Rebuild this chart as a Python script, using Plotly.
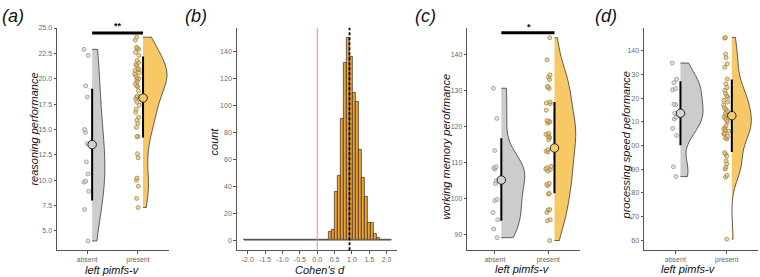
import numpy as np
import plotly.graph_objects as go

W, H = 760, 277

groups = ["absent", "present"]

# ---------------- panel (a): reasoning performance ----------------
reason_absent = [22.9, 22.3, 19.3, 18.2, 15.0, 14.7, 13.6, 11.8, 10.6, 9.9, 9.8, 8.9, 7.1, 4.0]
reason_present = [24.1, 23.8, 23.1, 23.0, 22.9, 22.6, 22.3, 21.8, 21.6, 21.4, 21.3, 21.0, 20.9,
                  20.8, 20.6, 20.5, 20.3, 20.1, 20.0, 19.9, 19.7, 19.5, 19.3, 19.2, 18.8, 18.3,
                  18.2, 18.0, 17.7, 17.4, 17.0, 16.7, 16.2, 15.9, 15.6, 15.2, 14.3, 14.3, 12.6,
                  12.2, 10.2, 10.0, 9.4, 8.2, 7.3]
reason_mean = [13.5, 18.1]
reason_err_lo = [8.0, 14.2]
reason_err_hi = [19.0, 22.2]
reason_sig_y = 24.5
reason_sig_text = "**"

# ---------------- panel (b): bootstrap Cohen's d ----------------
d_bin_start = -2.105
d_bin_width = 0.0865
d_counts = [0] * 28 + [6, 8, 36, 48, 90, 132, 150, 136, 109, 103, 67, 46, 32, 13, 13, 5, 2] + [0] * 4
d_mean = 0.93
d_null = 0.0
d_ticks = [-2.0, -1.5, -1.0, -0.5, 0.0, 0.5, 1.0, 1.5, 2.0]
d_ticktext = ["-2.0", "-1.5", "-1.0", "-0.5", "0.0", "0.5", "1.0", "1.5", "2.0"]
count_ticks = [0, 20, 40, 60, 80, 100, 120, 140]

# ---------------- panel (c): working memory ----------------
wm_absent = [130.7, 122.3, 113.4, 108.9, 108.6, 108.2, 105.0, 104.2, 99.8, 99.5, 96.2, 94.2, 91.6, 89.2]
wm_present = [144.7, 138.6, 134.4, 133.8, 133.1, 131.2, 131.0, 130.6, 126.9, 126.6, 126.4, 124.6,
              121.7, 121.5, 121.4, 121.0, 118.2, 117.9, 117.6, 117.3, 117.0, 116.4, 113.6, 113.2,
              113.0, 109.0, 108.6, 108.3, 108.1, 107.7, 104.3, 104.0, 103.6, 101.5, 101.3, 97.0,
              96.9, 96.2, 94.2, 93.9, 88.4]
wm_mean = [105.2, 114.1]
wm_err_lo = [93.9, 101.5]
wm_err_hi = [116.8, 126.9]
wm_sig_y = 146.1
wm_sig_text = "*"
wm_ticks = [90, 100, 110, 120, 130, 140]

# ---------------- panel (d): processing speed ----------------
ps_absent = [134.8, 128.0, 126.5, 124.0, 123.5, 117.4, 117.2, 113.6, 111.9, 111.2, 107.2, 104.2, 91.0, 86.9]
ps_present = [145.6, 145.3, 138.6, 137.1, 134.5, 133.0, 128.1, 126.0, 124.5, 123.3, 122.0, 121.0,
              120.4, 119.1, 118.3, 117.1, 116.0, 115.3, 114.5, 113.7, 112.9, 112.1, 111.5, 110.6,
              110.0, 108.4, 107.6, 107.0, 106.5, 106.0, 105.2, 104.9, 103.9, 103.2, 102.8, 97.0,
              96.5, 95.6, 93.6, 92.3, 90.8, 90.1, 87.4, 86.6, 60.5]
ps_mean = [113.6, 112.6]
ps_err_lo = [100.1, 97.3]
ps_err_hi = [127.1, 127.9]
ps_ticks = [60, 70, 80, 90, 100, 110, 120, 130, 140]
ps_ticktext = ["60", "70", "80", "90", "00", "10", "20", "30", "140"]

# ---------------- styling ----------------
FONT = "Liberation Sans, Arial, sans-serif"
GRAY_FILL = "#CCCCCC"
ORANGE_FILL = "#F7C966"
HIST_FILL = "#F0A22E"
OUTLINE = "#3a3a3a"
AXIS_COL = "#555555"
TICK_FONT = dict(family=FONT, size=7, color="#6a6a6a")


def px(x):
    return x / W


def py(y):
    return 1 - y / H


YDOM = [py(250), py(25)]

fig = go.Figure()

violin_panels = [
    # xaxis, yaxis, absent, present, means, lo, hi, offset, widths, bandwidths
    ("x", "y", reason_absent, reason_present, reason_mean, reason_err_lo, reason_err_hi, 0.1,
     (0.5, 0.94), (3.4, 1.35)),
    ("x3", "y3", wm_absent, wm_present, wm_mean, wm_err_lo, wm_err_hi, 0.12,
     (0.88, 0.8), (4.2, 5.2)),
    ("x4", "y4", ps_absent, ps_present, ps_mean, ps_err_lo, ps_err_hi, 0.1,
     (0.88, 0.76), (5.5, 5.5)),
]

for xa, ya, ab, pr, means, lo, hi, off, widths, bws in violin_panels:
    for gi, (vals, fill, pfill, pline) in enumerate([
        (ab, GRAY_FILL, "rgba(215,215,215,0.7)", "#8a8a8a"),
        (pr, ORANGE_FILL, "rgba(232,192,110,0.65)", "#9c7a35"),
    ]):
        pos = gi + 1 + off
        w = widths[gi]
        fig.add_trace(go.Violin(
            x0=pos, y=vals, side="positive", width=w, spanmode="hard", bandwidth=bws[gi],
            points="all", pointpos=-0.11 / (w / 2), jitter=0.12 / (w / 2) / 2,
            marker=dict(size=4, color=pfill, line=dict(color=pline, width=0.7)),
            line=dict(color=OUTLINE, width=0.8), fillcolor=fill,
            box_visible=False, meanline_visible=False, showlegend=False,
            xaxis=xa, yaxis=ya, hoverinfo="y",
        ))
    for gi in range(2):
        pos = gi + 1 + off
        fig.add_trace(go.Scatter(
            x=[pos, pos], y=[lo[gi], hi[gi]], mode="lines",
            line=dict(color="black", width=2), showlegend=False,
            xaxis=xa, yaxis=ya, hoverinfo="skip",
        ))
    fig.add_trace(go.Scatter(
        x=[1 + off, 2 + off], y=means, mode="markers",
        marker=dict(size=8.5, color=["#D3D3D3", "#F7CB6E"], line=dict(color="#222222", width=1)),
        showlegend=False, xaxis=xa, yaxis=ya, hoverinfo="y",
    ))

# histogram panel
n_bins = len(d_counts)
edges_lo = d_bin_start + d_bin_width * np.arange(n_bins)
centers = edges_lo + d_bin_width / 2
fig.add_trace(go.Scatter(
    x=[d_bin_start, d_bin_start + n_bins * d_bin_width], y=[0, 0], mode="lines",
    line=dict(color="#666666", width=1), showlegend=False, xaxis="x2", yaxis="y2", hoverinfo="skip",
))
fig.add_trace(go.Bar(
    x=centers, y=d_counts, width=d_bin_width,
    marker=dict(color=HIST_FILL, line=dict(color="#2a2a2a", width=0.7)),
    showlegend=False, xaxis="x2", yaxis="y2",
))

shapes = [
    dict(type="line", xref="x2", yref="y2 domain", x0=d_null, x1=d_null, y0=0, y1=1,
         line=dict(color="#F08A8A", width=1), layer="above"),
    dict(type="line", xref="x2", yref="y2 domain", x0=d_mean, x1=d_mean, y0=0, y1=1,
         line=dict(color="black", width=1.8, dash="3px,2px"), layer="above"),
    dict(type="line", xref="x", yref="y", x0=1.1, x1=2.1, y0=reason_sig_y, y1=reason_sig_y,
         line=dict(color="black", width=3)),
    dict(type="line", xref="x3", yref="y3", x0=1.12, x1=2.12, y0=wm_sig_y, y1=wm_sig_y,
         line=dict(color="black", width=3)),
]

annotations = []


def ann(text, x, y, size=11, angle=0, italic=True, bold=False):
    t = text
    if bold:
        t = "<b>" + t + "</b>"
    if italic:
        t = "<i>" + t + "</i>"
    annotations.append(dict(text=t, x=px(x), y=py(y), xref="paper", yref="paper",
                            showarrow=False, textangle=angle, xanchor="center", yanchor="middle",
                            font=dict(family=FONT, size=size, color="#111111")))


ann("(a)", 12.5, 13, size=18)
ann("(b)", 196, 13, size=18)
ann("(c)", 425, 13, size=18)
ann("(d)", 606, 13, size=18)

ann("reasoning performance", 34, 128, angle=-90)
ann("count", 214, 140, angle=-90)
ann("working memory perofrmance", 446, 145, angle=-90)
ann("processing speed peformance", 626, 144, angle=-90)

ann("left pimfs-v", 113, 269.5)
ann("Cohen's d", 320, 269.5)
ann("left pimfs-v", 522, 269)
ann("left pimfs-v", 688, 268.5)

ann(reason_sig_text, 117.5, 23, size=9, italic=False, bold=True)
ann(wm_sig_text, 529, 24, size=9, italic=False, bold=True)

axis_common = dict(showgrid=False, zeroline=False, showline=True, linecolor=AXIS_COL, linewidth=1,
                   ticks="outside", ticklen=2.5, tickcolor=AXIS_COL, tickwidth=1, tickfont=TICK_FONT)

layout = dict(
    width=W, height=H, margin=dict(l=0, r=0, t=0, b=0),
    paper_bgcolor="white", plot_bgcolor="white", showlegend=False,
    violinmode="overlay", barmode="overlay", bargap=0,
    shapes=shapes, annotations=annotations,
    xaxis=dict(domain=[px(57), px(169)], range=[0.41, 2.61], tickvals=[1, 2], ticktext=groups,
               anchor="y", **axis_common),
    yaxis=dict(domain=YDOM, range=[3.08, 25.03], tickvals=[5, 7.5, 10, 12.5, 15, 17.5, 20, 22.5, 25],
               tickformat=".1f", anchor="x", **axis_common),
    xaxis2=dict(domain=[px(236.7), px(396.7)], range=[-2.32, 2.29], tickvals=d_ticks, ticktext=d_ticktext,
                anchor="y2", **axis_common),
    yaxis2=dict(domain=YDOM, range=[-7.56, 157.6], tickvals=count_ticks, anchor="x2", **axis_common),
    xaxis3=dict(domain=[px(467.3), px(580)], range=[0.48, 2.6], tickvals=[1, 2], ticktext=groups,
                anchor="y3", **axis_common),
    yaxis3=dict(domain=YDOM, range=[85.69, 147.5], tickvals=wm_ticks, anchor="x3", **axis_common),
    xaxis4=dict(domain=[px(644), px(757.5)], range=[0.39, 2.6], tickvals=[1, 2], ticktext=groups,
                anchor="y4", **axis_common),
    yaxis4=dict(domain=YDOM, range=[55.8, 149.7], tickvals=ps_ticks, ticktext=ps_ticktext,
                anchor="x4", **axis_common),
)
fig.update_layout(**layout)

fig.write_html("out.html", config={"displayModeBar": False},
               post_script="document.body.style.margin='0';document.body.style.overflow='hidden';")
